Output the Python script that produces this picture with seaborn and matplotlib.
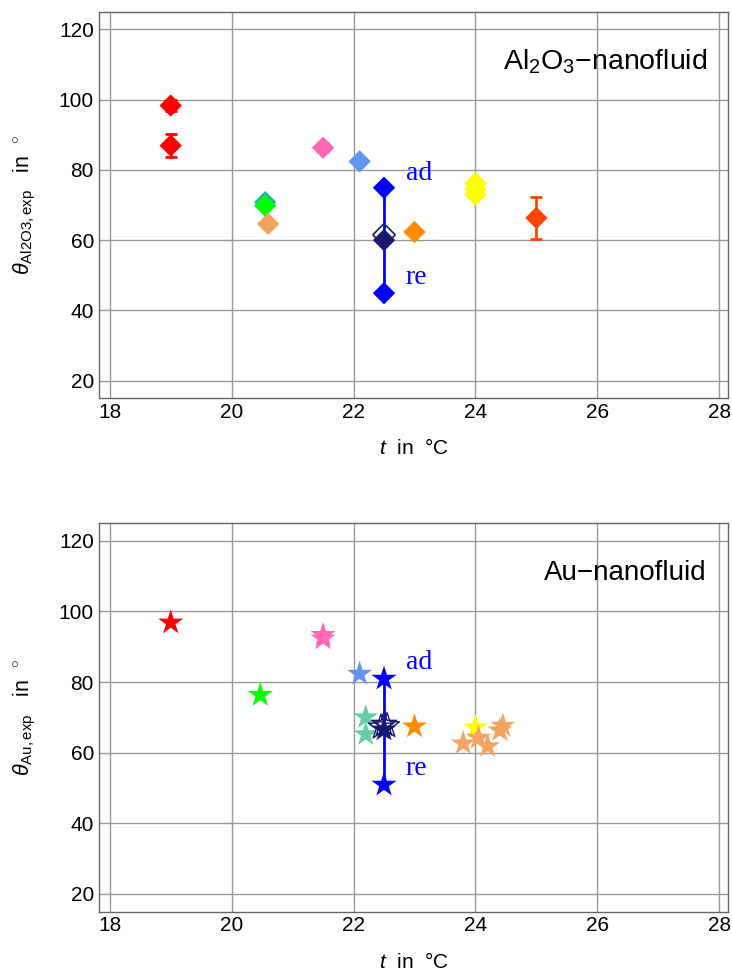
import numpy as np
import pandas as pd
import seaborn as sns
import matplotlib.pyplot as plt

# Al2O3 nanofluid: temperature, contact angle, error, colour
al_t = [19.0, 19.0, 20.55, 20.55, 20.6, 21.5, 22.1, 22.5, 22.5, 22.5, 23.0, 24.0, 24.0, 24.0, 25.0]
al_theta = [98.3, 86.9, 70.8, 69.8, 64.6, 86.3, 82.4, 74.9, 44.9, 60.0, 62.3, 76.2, 74.5, 72.9, 66.3]
al_err = [1.5, 3.2, 0, 0, 0, 1.2, 0, 0, 0, 0, 0, 0, 0, 0, 6.0]
al_color = ['red', 'red', 'lightseagreen', 'lime', 'sandybrown', 'hotpink', 'cornflowerblue',
            'blue', 'blue', 'midnightblue', 'darkorange', 'yellow', 'yellow', 'yellow', 'orangered']
al_open_t = [22.5]
al_open_theta = [61.5]

# Au nanofluid
au_t = [19.0, 20.47, 21.5, 21.5, 22.1, 22.2, 22.2, 22.5, 22.5, 22.5, 23.0, 24.0,
        23.8, 24.05, 24.2, 24.4, 24.45]
au_theta = [96.8, 76.3, 92.3, 93.3, 82.3, 70.0, 65.2, 80.9, 50.9, 66.5, 67.4, 67.1,
            62.6, 64.2, 61.8, 66.3, 67.6]
au_color = ['red', 'lime', 'hotpink', 'hotpink', 'cornflowerblue', 'mediumaquamarine',
            'mediumaquamarine', 'blue', 'blue', 'midnightblue', 'darkorange', 'yellow',
            'sandybrown', 'sandybrown', 'sandybrown', 'sandybrown', 'sandybrown']
au_open_t = [22.45, 22.5, 22.55]
au_open_theta = [67.2, 68.0, 67.6]

# adsorption / receding pair (blue points)
al_ad_re = [74.9, 44.9]
au_ad_re = [80.9, 50.9]

sns.set_style("white")
plt.rcParams['font.family'] = ['Liberation Sans', 'DejaVu Sans']
plt.rcParams['mathtext.fontset'] = 'custom'
plt.rcParams['mathtext.rm'] = 'Liberation Sans'
plt.rcParams['mathtext.it'] = 'Liberation Sans:italic'
plt.rcParams['text.color'] = 'black'
plt.rcParams['axes.labelcolor'] = 'black'
plt.rcParams['xtick.color'] = 'black'
plt.rcParams['ytick.color'] = 'black'

al = pd.DataFrame({'t': al_t, 'theta': al_theta, 'err': al_err, 'color': al_color})
au = pd.DataFrame({'t': au_t, 'theta': au_theta, 'color': au_color})

fig = plt.figure(figsize=(7.32, 9.76), dpi=100)
ax1 = fig.add_axes([0.135, 0.592, 0.86, 0.396])
ax2 = fig.add_axes([0.135, 0.066, 0.86, 0.398])

pal_al = {c: c for c in al_color}
pal_au = {c: c for c in au_color}

# top panel
ax1.vlines(22.5, min(al_ad_re), max(al_ad_re), color='blue', lw=2, zorder=2)
errs = al[al['err'] > 0]
for _, r in errs.iterrows():
    ax1.errorbar(r['t'], r['theta'], yerr=r['err'], color=r['color'], capsize=4,
                 capthick=2, lw=2, zorder=2)
sns.scatterplot(data=al, x='t', y='theta', hue='color', palette=pal_al, marker='D',
                s=130, linewidth=0, legend=False, ax=ax1, zorder=3)
ax1.scatter(al_open_t, al_open_theta, marker='D', s=130, facecolors='none',
            edgecolors='midnightblue', linewidths=1.2, zorder=4)
ax1.text(22.86, 78.9, 'ad', color='blue', fontsize=20, family='Liberation Serif', va='center')
ax1.text(22.86, 49.4, 're', color='blue', fontsize=20, family='Liberation Serif', va='center')
ax1.text(27.8, 110.9, r'Al$_2$O$_3$−nanofluid', fontsize=20.5, ha='right', va='center')
ax1.set_ylabel(r'$\theta_{\rm Al2O3,exp}$   in  $^{\circ}$', fontsize=15.5)
ax1.xaxis.set_label_coords(0.5, -0.104)

# bottom panel
ax2.vlines(22.5, min(au_ad_re), max(au_ad_re), color='blue', lw=2, zorder=2)
sns.scatterplot(data=au, x='t', y='theta', hue='color', palette=pal_au, marker='*',
                s=360, linewidth=0, legend=False, ax=ax2, zorder=3)
ax2.scatter(au_open_t, au_open_theta, marker='*', s=360, facecolors='none',
            edgecolors='midnightblue', linewidths=1.0, zorder=4)
ax2.text(22.86, 85.4, 'ad', color='blue', fontsize=20, family='Liberation Serif', va='center')
ax2.text(22.86, 55.4, 're', color='blue', fontsize=20, family='Liberation Serif', va='center')
ax2.text(27.8, 110.9, 'Au−nanofluid', fontsize=20, ha='right', va='center')
ax2.set_ylabel(r'$\theta_{\rm Au,exp}$   in  $^{\circ}$', fontsize=15.5)
ax2.xaxis.set_label_coords(0.5, -0.103)

for ax in (ax1, ax2):
    ax.set_xlim(17.82, 28.15)
    ax.set_ylim(15, 125)
    ax.set_xticks([18, 20, 22, 24, 26, 28])
    ax.set_yticks([20, 40, 60, 80, 100, 120])
    ax.grid(True, color='#999999', lw=1)
    ax.set_axisbelow(True)
    ax.tick_params(direction='in', length=5, labelsize=15, color='black')
    ax.set_xlabel(r'$t$  in  °C', fontsize=15)
    ax.yaxis.set_label_coords(-0.096, 0.5)
    for sp in ax.spines.values():
        sp.set_color('#666666')
        sp.set_linewidth(1)

fig.savefig('out.png', dpi=100)
